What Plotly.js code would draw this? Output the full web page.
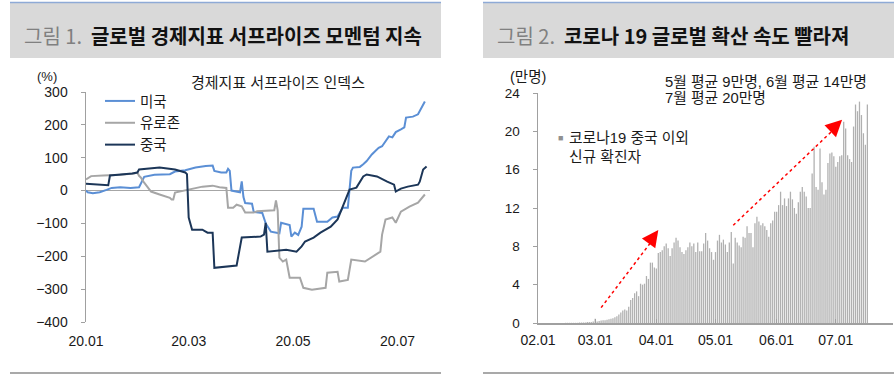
<!DOCTYPE html>
<html>
<head>
<meta charset="utf-8">
<script src="https://cdn.plot.ly/plotly-3.0.1.min.js"></script>
<style>html,body{margin:0;padding:0;background:#fff;}#chart{width:894px;height:376px;}</style>
</head>
<body>
<div id="chart"></div>
<script>
// ---------- Figure 1: economic surprise index (days since 2020-01-01) ----------
const xTickDays = [0, 60, 121, 182];
const xTickText = ['20.01', '20.03', '20.05', '20.07'];

const usDays = [0,1,4,8,12,15,20,26,31,32,34,40,49,52,58,64,70,74,75,79,82,83,84,85,88,90,91,92,93,97,98,103,105,108,113,114,119,120,122,124,126,127,133,135,141,144,147,150,153,155,156,160,162,164,167,171,173,175,177,179,181,184,186,187,191,194,196,198];
const usVals = [0,-5,-8,-5,2,8,10,8,10,20,42,48,50,58,62,70,75,76,60,55,55,66,60,0,-3,-5,28,-20,-38,-40,-65,-68,-100,-125,-130,-98,-105,-140,-128,-135,-110,-55,-55,-95,-95,-82,-79,-52,-52,60,70,72,80,90,110,130,135,150,165,162,178,186,192,222,225,232,250,271];

const euDays = [0,3,10,20,28,30,31,32,34,36,38,43,46,49,50,51,52,55,61,68,74,78,82,83,86,88,91,93,98,100,110,111,112,113,115,117,119,125,127,132,140,141,147,148,153,155,163,168,172,173,175,179,181,184,189,194,198];
const euVals = [34,44,46,48,52,55,45,40,24,9,-3,-12,-18,-22,-27,-27,-6,-3,3,12,15,10,8,-52,-52,-43,-48,-67,-67,-63,-60,-30,-60,-204,-216,-210,-265,-265,-296,-302,-296,-250,-247,-277,-272,-210,-216,-198,-186,-134,-88,-82,-98,-64,-49,-37,-12];

const cnDays = [0,7,13,14,23,27,30,31,43,52,58,59,60,62,68,71,74,75,88,91,102,104,105,106,117,123,126,128,133,137,143,147,150,153,154,158,162,164,170,176,180,181,184,188,194,195,197,199];
const cnVals = [21,18,16,46,49,52,55,64,70,64,55,50,-82,-119,-119,-128,-128,-235,-228,-143,-140,-134,-98,-186,-180,-186,-170,-155,-143,-128,-110,-88,-49,-12,3,9,43,49,43,27,18,-3,6,12,18,27,64,73];

const seriesNames = ['미국', '유로존', '중국'];

// ---------- Figure 2: daily new cases outside China (10k persons), day 0 = 02.01 ----------
const caseTickDays = [0, 29, 60, 90, 121, 151];
const caseTickText = ['02.01', '03.01', '04.01', '05.01', '06.01', '07.01'];
const newCases = [
  0.01,0.01,0.01,0.01,0.01,0.01,0.01,0.01,0.01,0.01,0.01,0.01,0.01,0.01,
  0.02,0.02,0.02,0.02,0.02,0.02,0.02,
  0.05,0.05,0.05,0.05,
  0.1,0.1,0.1,
  0.15,0.45,
  0.15,0.2,0.25,0.3,0.3,0.35,0.4,
  0.45,0.5,0.6,0.7,
  0.9,1.1,1.3,1.4,1.3,1.7,2.4,2.6,3.1,3.3,2.8,4.1,4.0,4.1,4.9,4.6,6.3,6.3,5.8,5.7,
  7.3,7.4,7.6,8.0,8.3,7.8,7.0,7.8,8.4,8.9,8.6,7.9,7.4,7.2,7.6,7.9,8.4,8.0,8.3,7.4,
  8.4,7.5,7.5,8.3,9.4,8.6,7.8,7.4,6.6,7.4,8.6,9.2,8.4,8.7,8.2,7.4,8.4,9.5,6.2,
  8.9,8.4,8.1,7.9,9.0,8.9,10.1,9.4,9.4,7.9,10.4,11.1,
  10.6,10.2,10.4,10.1,9.7,9.0,10.4,10.7,11.6,11.6,
  12.3,13.7,12.3,13.0,12.2,13.0,13.7,12.9,12.0,11.4,
  12.6,13.7,14.2,13.7,13.2,12.0,12.0,15.6,18.4,14.2,
  13.9,18.2,14.7,13.4,13.9,16.7,17.7,17.8,17.4,16.3,
  16.8,17.4,17.5,21.0,20.3,17.5,17.1,16.8,20.5,22.8,
  22.1,23.1,21.7,19.8,18.6,22.8
];
const caseDays = newCases.map((v, i) => i);

const FONT = 'Liberation Sans, Noto Sans CJK KR, sans-serif';
const KFONT = 'Noto Sans CJK KR, Liberation Sans, sans-serif';
const W = 894, H = 376;
const px = v => v / W;
const py = v => 1 - v / H;

const AX = '#a0a0a0';
const TXT = '#1a1a1a';

const traces = [
  {x: usDays, y: usVals, name: seriesNames[0], type: 'scatter', mode: 'lines', xaxis: 'x', yaxis: 'y',
   line: {color: '#5b8fd5', width: 2}},
  {x: euDays, y: euVals, name: seriesNames[1], type: 'scatter', mode: 'lines', xaxis: 'x', yaxis: 'y',
   line: {color: '#a6a6a6', width: 2}},
  {x: cnDays, y: cnVals, name: seriesNames[2], type: 'scatter', mode: 'lines', xaxis: 'x', yaxis: 'y',
   line: {color: '#1c3658', width: 2}},
  {x: caseDays, y: newCases, name: '코로나19 중국 이외 신규 확진자', type: 'bar', xaxis: 'x2', yaxis: 'y2', showlegend: false,
   marker: {color: '#b0b0b0', line: {width: 0}}}
];

const yDom1 = [py(322), py(92)];
const zeroPos = yDom1[0] + (400 / 700) * (yDom1[1] - yDom1[0]);

const layout = {
  width: W, height: H,
  margin: {l: 0, r: 0, t: 0, b: 0},
  paper_bgcolor: '#ffffff', plot_bgcolor: 'rgba(0,0,0,0)',
  font: {family: FONT, size: 14, color: TXT},
  bargap: 0.35,
  showlegend: true,
  legend: {x: px(100), y: py(85), xanchor: 'left', yanchor: 'top', bgcolor: 'rgba(0,0,0,0)',
           font: {family: FONT, size: 14.5, color: TXT}, tracegroupgap: 0},
  xaxis: {domain: [px(86), px(430)], range: [0, 201], anchor: 'y', showline: false, showgrid: false, zeroline: false,
          tickmode: 'array', tickvals: xTickDays, ticktext: xTickText, ticks: 'outside', ticklen: 6,
          tickcolor: 'rgba(0,0,0,0)', tickfont: {family: FONT, size: 14, color: TXT}, fixedrange: true},
  xaxis3: {overlaying: 'x', anchor: 'free', position: zeroPos, range: [0, 201], showline: false, showgrid: false,
           zeroline: false, tickmode: 'array', tickvals: xTickDays.slice(1), ticks: 'inside', ticklen: 4,
           tickcolor: AX, tickwidth: 1, showticklabels: false},
  yaxis: {domain: yDom1, range: [-400, 300], anchor: 'x', tick0: 0, dtick: 100, showline: true, linecolor: AX,
          linewidth: 1.5, ticks: 'outside', ticklen: 4, tickcolor: AX, showgrid: false, zeroline: true,
          zerolinecolor: '#a6a6a6', zerolinewidth: 1.5, ticklabelstandoff: 10,
          tickfont: {family: FONT, size: 14, color: TXT}},
  xaxis2: {domain: [px(538), px(893)], range: [0, 180], anchor: 'y2', showline: true, linecolor: AX, linewidth: 1.5,
           showgrid: false, zeroline: false, tickmode: 'array', tickvals: caseTickDays, ticktext: caseTickText,
           ticks: 'inside', ticklen: 4, tickcolor: AX, ticklabelstandoff: 4,
           tickfont: {family: FONT, size: 14, color: TXT}},
  yaxis2: {domain: [py(323), py(93)], range: [0, 24], anchor: 'x2', tick0: 0, dtick: 4, showline: true, linecolor: AX,
           linewidth: 1.5, ticks: 'outside', ticklen: 4, tickcolor: AX, showgrid: false, zeroline: false,
           ticklabelstandoff: 10, tickfont: {family: FONT, size: 13.5, color: TXT}},
  shapes: [
    {type: 'rect', xref: 'paper', yref: 'paper', x0: px(10), x1: px(441), y0: py(58), y1: py(3), fillcolor: '#d9d9d9', line: {width: 0}, layer: 'below'},
    {type: 'rect', xref: 'paper', yref: 'paper', x0: px(483), x1: 1, y0: py(58), y1: py(3), fillcolor: '#d9d9d9', line: {width: 0}, layer: 'below'},
    {type: 'line', xref: 'paper', yref: 'paper', x0: px(10), x1: px(441), y0: py(2.5), y1: py(2.5), line: {color: '#8eaad6', width: 1.5}},
    {type: 'line', xref: 'paper', yref: 'paper', x0: px(483), x1: 1, y0: py(2.5), y1: py(2.5), line: {color: '#8eaad6', width: 1.5}},
    {type: 'line', xref: 'paper', yref: 'paper', x0: px(10), x1: px(441), y0: py(373), y1: py(373), line: {color: '#8c8c8c', width: 1.5}},
    {type: 'line', xref: 'paper', yref: 'paper', x0: px(483), x1: 1, y0: py(373), y1: py(373), line: {color: '#8c8c8c', width: 1.5}},
    {type: 'line', xref: 'x2', yref: 'y2', x0: 32, y0: 1.6, x1: 59, y1: 8.9, line: {color: '#ff0000', width: 1.5, dash: 'dot'}},
    {type: 'line', xref: 'x2', yref: 'y2', x0: 99, y0: 10.2, x1: 151, y1: 20.4, line: {color: '#ff0000', width: 1.5, dash: 'dot'}}
  ],
  annotations: [
    {xref: 'paper', yref: 'paper', x: px(22), y: py(35), xanchor: 'left', yanchor: 'middle', showarrow: false,
     text: '<span style="color:#808080">그림 1.</span>  <b>글로벌 경제지표 서프라이즈 모멘텀 지속</b>',
     font: {family: KFONT, size: 20, color: '#111'}},
    {xref: 'paper', yref: 'paper', x: px(495), y: py(35), xanchor: 'left', yanchor: 'middle', showarrow: false,
     text: '<span style="color:#808080">그림 2.</span>  <b>코로나 19 글로벌 확산 속도 빨라져</b>',
     font: {family: KFONT, size: 20, color: '#111'}},
    {xref: 'paper', yref: 'paper', x: px(47), y: py(76), xanchor: 'center', yanchor: 'middle', showarrow: false,
     text: '(%)', font: {family: FONT, size: 13, color: TXT}},
    {xref: 'paper', yref: 'paper', x: px(278), y: py(82), xanchor: 'center', yanchor: 'middle', showarrow: false,
     text: '경제지표 서프라이즈 인덱스', font: {family: FONT, size: 15, color: TXT}},
    {xref: 'paper', yref: 'paper', x: px(528), y: py(77), xanchor: 'center', yanchor: 'middle', showarrow: false,
     text: '(만명)', font: {family: FONT, size: 14.5, color: TXT}},
    {xref: 'paper', yref: 'paper', x: px(663), y: py(82), xanchor: 'left', yanchor: 'middle', showarrow: false,
     text: '5월 평균 9만명, 6월 평균 14만명', font: {family: FONT, size: 14.8, color: TXT}},
    {xref: 'paper', yref: 'paper', x: px(663), y: py(98), xanchor: 'left', yanchor: 'middle', showarrow: false,
     text: '7월 평균 20만명', font: {family: FONT, size: 14.8, color: TXT}},
    {xref: 'paper', yref: 'paper', x: px(560), y: py(138), xanchor: 'center', yanchor: 'middle', showarrow: false,
     text: '■', font: {family: FONT, size: 9, color: '#909090'}},
    {xref: 'paper', yref: 'paper', x: px(567), y: py(138), xanchor: 'left', yanchor: 'middle', showarrow: false,
     text: '코로나19 중국 이외', font: {family: FONT, size: 14.8, color: TXT}},
    {xref: 'paper', yref: 'paper', x: px(567), y: py(157), xanchor: 'left', yanchor: 'middle', showarrow: false,
     text: '신규 확진자', font: {family: FONT, size: 14.8, color: TXT}},
    {xref: 'x2', yref: 'y2', x: 61, y: 9.7, ax: -9.4, ay: 12.9, text: '', showarrow: true, arrowhead: 2,
     arrowsize: 2.2, arrowwidth: 1.5, arrowcolor: '#ff0000'},
    {xref: 'x2', yref: 'y2', x: 154.2, y: 21.2, ax: -11.5, ay: 11.1, text: '', showarrow: true, arrowhead: 2,
     arrowsize: 2.2, arrowwidth: 1.5, arrowcolor: '#ff0000'}
  ]
};

Plotly.newPlot('chart', traces, layout, {displayModeBar: false, staticPlot: true});
</script>
</body>
</html>
